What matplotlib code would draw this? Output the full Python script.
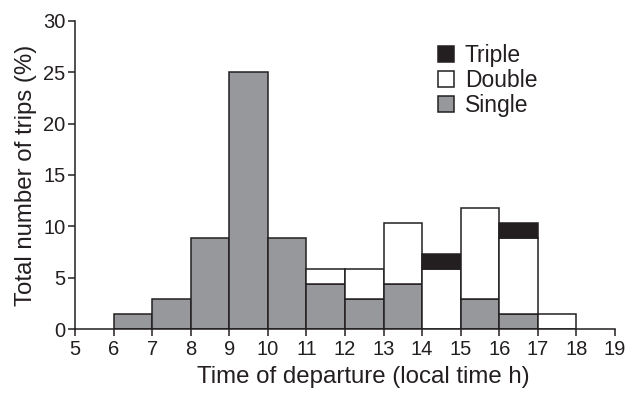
import matplotlib
matplotlib.use("Agg")
import matplotlib.pyplot as plt
from matplotlib.patches import Patch

plt.rcParams['font.family'] = ['Liberation Sans', 'DejaVu Sans']

hours = [6, 7, 8, 9, 10, 11, 12, 13, 14, 15, 16, 17]
single = [1.47, 2.94, 8.82, 25.0, 8.82, 4.41, 2.94, 4.41, 0.0, 2.94, 1.47, 0.0]
double = [0.0, 0.0, 0.0, 0.0, 0.0, 1.47, 2.94, 5.88, 5.88, 8.82, 7.35, 1.47]
triple = [0.0, 0.0, 0.0, 0.0, 0.0, 0.0, 0.0, 0.0, 1.47, 0.0, 1.47, 0.0]
xticks = list(range(5, 20))
yticks = [0, 5, 10, 15, 20, 25, 30]

c_single = '#97989b'
c_double = '#ffffff'
c_triple = '#231f20'
edge = '#231f20'

fig = plt.figure(figsize=(6.28, 3.95), dpi=100)
ax = fig.add_axes([0.1194, 0.167, 0.8600, 0.780])

lw = 1.1
bottom_d = single
bottom_t = [s + d for s, d in zip(single, double)]
for h, s, d, t, bd, bt in zip(hours, single, double, triple, bottom_d, bottom_t):
    if s > 0:
        ax.bar(h, s, width=1, align='edge', color=c_single, edgecolor=edge, linewidth=lw, zorder=2)
    if d > 0:
        ax.bar(h, d, width=1, bottom=bd, align='edge', color=c_double, edgecolor=edge, linewidth=lw, zorder=2)
    if t > 0:
        ax.bar(h, t, width=1, bottom=bt, align='edge', color=c_triple, edgecolor=edge, linewidth=lw, zorder=2)

ax.set_xlim(5, 19)
ax.set_ylim(0, 30)
ax.set_xticks(xticks)
ax.set_yticks(yticks)
for sp in ['top', 'right']:
    ax.spines[sp].set_visible(False)
for sp in ['left', 'bottom']:
    ax.spines[sp].set_linewidth(1.1)
    ax.spines[sp].set_color(edge)
ax.tick_params(axis='both', labelsize=14.5, direction='out', length=5, width=1.1, colors=edge)
ax.tick_params(axis='y', pad=2)
ax.tick_params(axis='x', pad=3)
ax.set_xlabel('Time of departure (local time h)', fontsize=17.25, color=edge, labelpad=5, x=0.533)
ax.set_ylabel('Total number of trips (%)', fontsize=17.25, color=edge, labelpad=4)

handles = [Patch(facecolor=c_triple, edgecolor=edge, linewidth=1.1, label='Triple'),
           Patch(facecolor=c_double, edgecolor=edge, linewidth=1.1, label='Double'),
           Patch(facecolor=c_single, edgecolor=edge, linewidth=1.1, label='Single')]
ax.legend(handles=handles, loc='upper left', bbox_to_anchor=(0.643, 0.978), frameon=False,
          fontsize=16.5, handlelength=0.7, handleheight=0.7, handletextpad=0.45, labelspacing=0.1,
          borderpad=0.2, labelcolor=edge)

fig.savefig('out.png', dpi=100)
